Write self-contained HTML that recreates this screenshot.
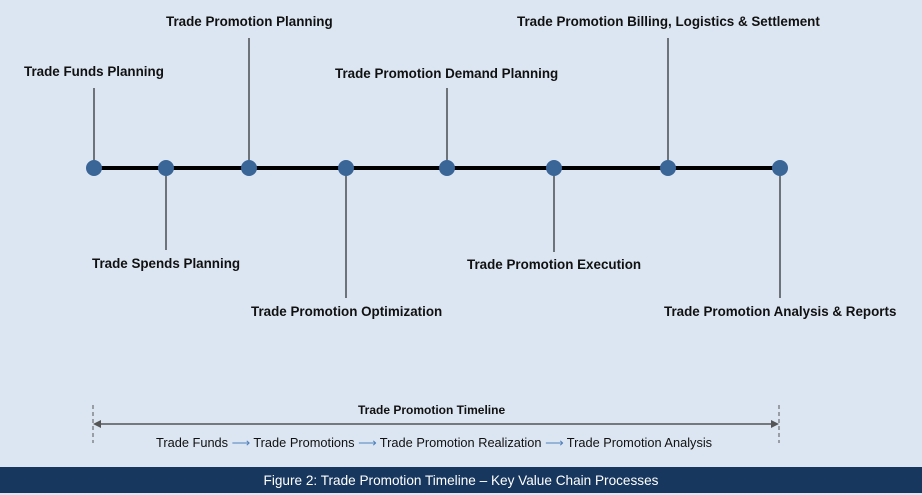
<!DOCTYPE html>
<html><head><style>
body{margin:0;width:922px;height:493px;background:#dce6f2;position:relative;overflow:hidden;font-family:"Liberation Sans",Arial,sans-serif}
.l{position:absolute;font-weight:bold;font-size:13.4px;color:#111;white-space:nowrap;line-height:16px}
.s{position:absolute;font-size:12.8px;color:#111;white-space:nowrap;line-height:14px}
.foot{position:absolute;left:0;top:467px;width:922px;height:26px;background:#17375e;color:#fff;font-size:13.6px;text-align:center;line-height:28px}
</style></head><body>
<svg width="922" height="493" style="position:absolute;left:0;top:0">
<g stroke="#000" stroke-width="1" shape-rendering="crispEdges">
<line x1="94" y1="88" x2="94" y2="168"/>
<line x1="166" y1="168" x2="166" y2="250"/>
<line x1="249" y1="38" x2="249" y2="168"/>
<line x1="346" y1="168" x2="346" y2="298"/>
<line x1="447" y1="88" x2="447" y2="168"/>
<line x1="554" y1="168" x2="554" y2="252"/>
<line x1="668" y1="38" x2="668" y2="168"/>
<line x1="780" y1="168" x2="780" y2="298"/>
</g>
<line x1="94" y1="168" x2="780" y2="168" stroke="#000" stroke-width="4"/>
<g fill="#3a6597">
<circle cx="94" cy="168" r="8"/><circle cx="166" cy="168" r="8"/><circle cx="249" cy="168" r="8"/><circle cx="346" cy="168" r="8"/><circle cx="447" cy="168" r="8"/><circle cx="554" cy="168" r="8"/><circle cx="668" cy="168" r="8"/><circle cx="780" cy="168" r="8"/>
</g>
<g stroke="#555" stroke-width="1" stroke-dasharray="4,3">
<line x1="93" y1="405" x2="93" y2="443"/><line x1="779" y1="405" x2="779" y2="443"/>
</g>
<line x1="97" y1="424" x2="775" y2="424" stroke="#555" stroke-width="1.5"/>
<polygon points="93,424 101,420 101,428" fill="#555"/>
<polygon points="779,424 771,420 771,428" fill="#555"/>
</svg>
<div class="l" style="left:24px;top:64px">Trade Funds Planning</div>
<div class="l" style="left:166px;top:14px">Trade Promotion Planning</div>
<div class="l" style="left:335px;top:66px">Trade Promotion Demand Planning</div>
<div class="l" style="left:517px;top:14px">Trade Promotion Billing, Logistics &amp; Settlement</div>
<div class="l" style="left:92px;top:256px">Trade Spends Planning</div>
<div class="l" style="left:251px;top:304px">Trade Promotion Optimization</div>
<div class="l" style="left:467px;top:257px">Trade Promotion Execution</div>
<div class="l" style="left:664px;top:304px">Trade Promotion Analysis &amp; Reports</div>
<div class="s" style="left:358px;top:403px;font-weight:bold;font-size:12px">Trade Promotion Timeline</div>
<div class="s" style="left:156px;top:436px">Trade Funds <span style="color:#4f81bd">⟶</span> Trade Promotions <span style="color:#4f81bd">⟶</span> Trade Promotion Realization <span style="color:#4f81bd">⟶</span> Trade Promotion Analysis</div>
<div class="foot">Figure 2: Trade Promotion Timeline – Key Value Chain Processes</div>
</body></html>
